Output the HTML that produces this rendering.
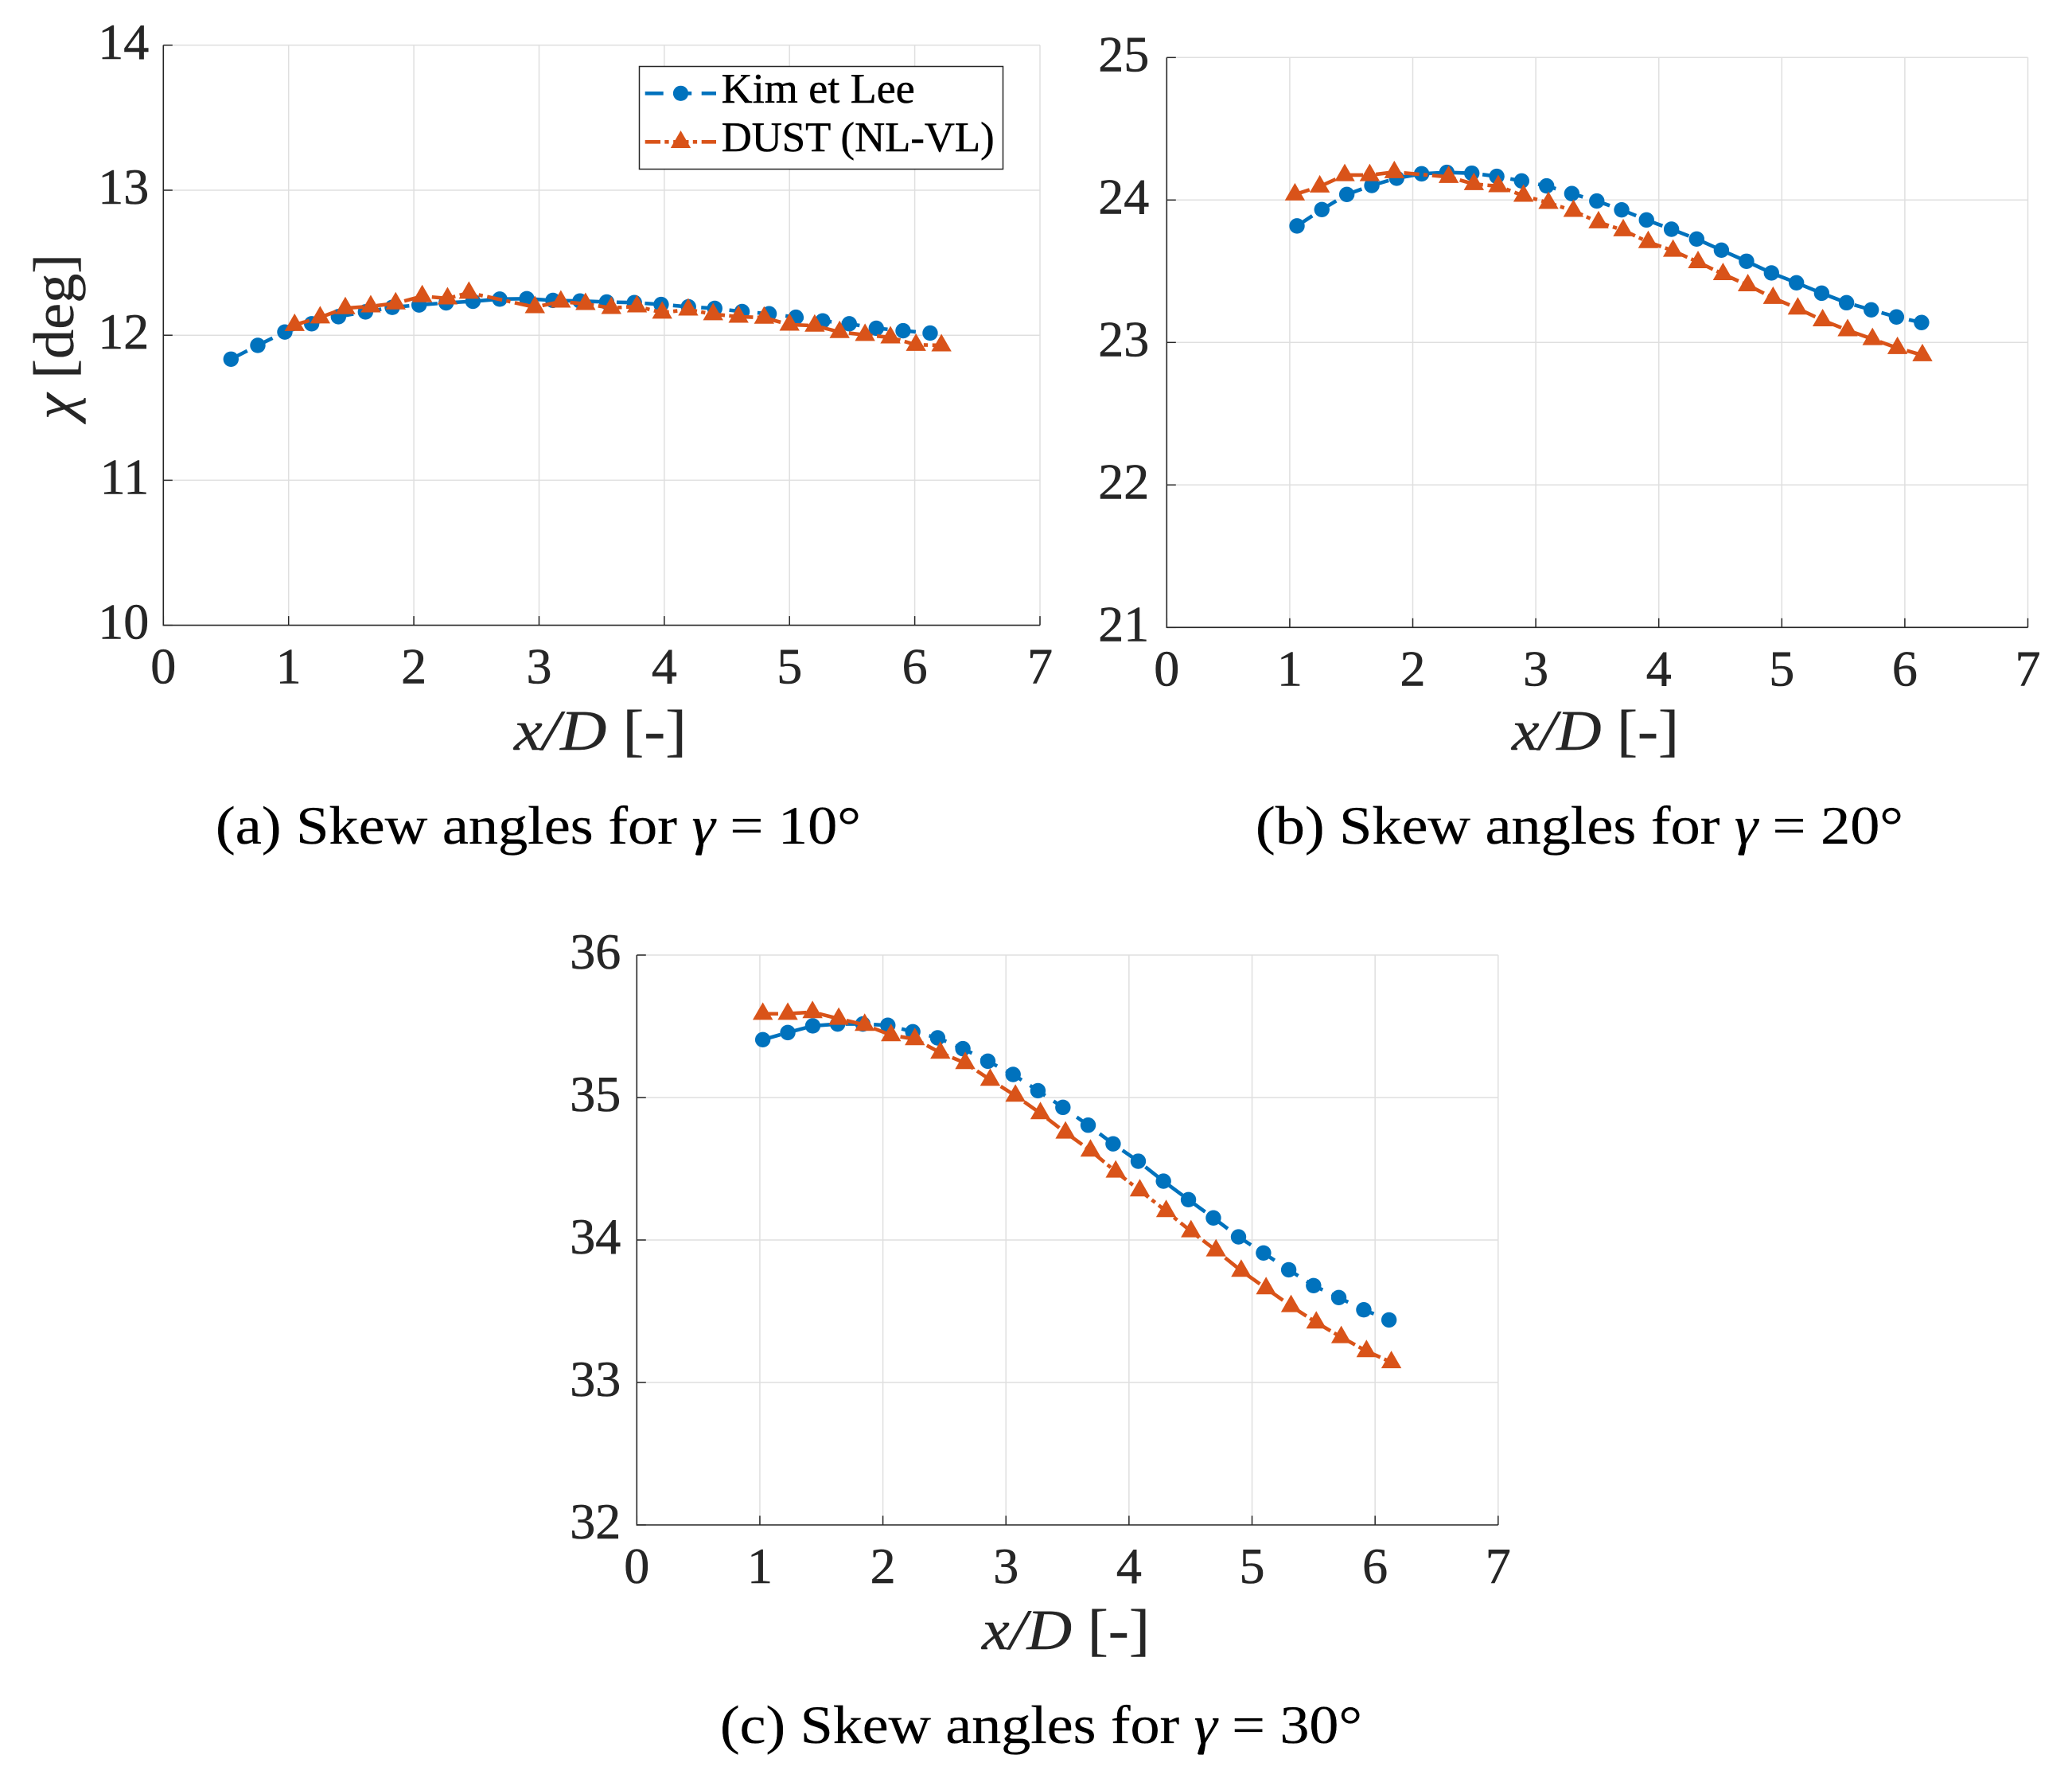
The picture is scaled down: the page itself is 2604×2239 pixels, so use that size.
<!DOCTYPE html>
<html lang="en">
<head>
<meta charset="utf-8">
<title>Skew angles for three yaw angles</title>
<style>
  html, body { margin: 0; padding: 0; background: #ffffff; }
  svg { display: block; font-family: "Liberation Serif", serif; }
  .tick { font-size: 64px; fill: #262626; stroke: #262626; stroke-width: 0.6px; }
  .axis-title { font-size: 72px; fill: #262626; stroke: #262626; stroke-width: 0.4px; }
  .caption { font-size: 68px; fill: #000000; stroke: #000000; stroke-width: 0.3px; }
  .legend-text { font-size: 53px; fill: #000000; stroke: #000000; stroke-width: 0.5px; }
</style>
</head>
<body>
<svg id="figure" xmlns="http://www.w3.org/2000/svg" width="2604" height="2239" viewBox="0 0 2604 2239">
  <rect x="0" y="0" width="2604" height="2239" fill="#ffffff"/>
  <g id="panel-a"></g>
  <g id="panel-b"></g>
  <g id="panel-c"></g>

  <text class="axis-title" transform="translate(92 527) rotate(-90)" textLength="208" lengthAdjust="spacingAndGlyphs"><tspan font-style="italic">χ</tspan> [deg]</text>
  <text class="axis-title" x="646" y="942" textLength="217" lengthAdjust="spacingAndGlyphs"><tspan font-style="italic">x/D</tspan> [-]</text>
  <text class="axis-title" x="1900" y="942" textLength="210" lengthAdjust="spacingAndGlyphs"><tspan font-style="italic">x/D</tspan> [-]</text>
  <text class="axis-title" x="1234" y="2072" textLength="211" lengthAdjust="spacingAndGlyphs"><tspan font-style="italic">x/D</tspan> [-]</text>

  <text class="caption" x="271" y="1060" textLength="811" lengthAdjust="spacingAndGlyphs">(a)  Skew angles for <tspan font-style="italic">γ</tspan> = 10°</text>
  <text class="caption" x="1578" y="1060" textLength="814" lengthAdjust="spacingAndGlyphs">(b)  Skew angles for <tspan font-style="italic">γ</tspan> = 20°</text>
  <text class="caption" x="905" y="2190" textLength="807" lengthAdjust="spacingAndGlyphs">(c)  Skew angles for <tspan font-style="italic">γ</tspan> = 30°</text>

  <g>
    <rect x="803.5" y="83.5" width="457" height="129" fill="#ffffff" stroke="#262626" stroke-width="1.5"/>
    <line x1="810.7" y1="117.3" x2="900" y2="117.3" stroke="#0072BD" stroke-width="4.6" stroke-dasharray="23 12.5"/>
    <circle cx="855.5" cy="117.3" r="9.6" fill="#0072BD"/>
    <text class="legend-text" x="906.7" y="129" textLength="243" lengthAdjust="spacingAndGlyphs">Kim et Lee</text>
    <line x1="810.7" y1="178.3" x2="900" y2="178.3" stroke="#D95319" stroke-width="4.6" stroke-dasharray="19.3 5.3 5.3 5.6"/>
    <path d="M855.5 164 L868.2 186 L842.8 186 Z" fill="#D95319"/>
    <text class="legend-text" x="906.7" y="190" textLength="343" lengthAdjust="spacingAndGlyphs">DUST (NL-VL)</text>
  </g>
</svg>

<script>
const xTickLabels = ['0', '1', '2', '3', '4', '5', '6', '7'];

const panelAYTicks = ['10', '11', '12', '13', '14'];
const panelAKimX = [0.54, 0.754, 0.97, 1.184, 1.398, 1.614, 1.828, 2.042, 2.258, 2.472, 2.686, 2.902, 3.111, 3.327, 3.54, 3.761, 3.975, 4.193, 4.403, 4.621, 4.837, 5.051, 5.265, 5.477, 5.693, 5.907, 6.123];
const panelAKimChi = [11.835, 11.93, 12.022, 12.079, 12.128, 12.161, 12.192, 12.209, 12.223, 12.234, 12.249, 12.252, 12.24, 12.236, 12.229, 12.225, 12.212, 12.196, 12.185, 12.163, 12.148, 12.124, 12.099, 12.079, 12.048, 12.031, 12.015];
const panelADustX = [1.048, 1.252, 1.453, 1.656, 1.855, 2.067, 2.269, 2.44, 2.967, 3.174, 3.371, 3.577, 3.782, 3.983, 4.191, 4.39, 4.593, 4.797, 5.0, 5.201, 5.4, 5.603, 5.806, 6.01, 6.213];
const panelADustChi = [12.071, 12.123, 12.187, 12.199, 12.22, 12.269, 12.254, 12.293, 12.194, 12.232, 12.216, 12.188, 12.199, 12.156, 12.177, 12.145, 12.128, 12.121, 12.073, 12.066, 12.022, 12.002, 11.985, 11.934, 11.93];

const panelBYTicks = ['21', '22', '23', '24', '25'];
const panelBKimX = [1.059, 1.261, 1.464, 1.667, 1.869, 2.072, 2.277, 2.48, 2.683, 2.885, 3.088, 3.293, 3.496, 3.698, 3.9, 4.103, 4.308, 4.509, 4.713, 4.916, 5.119, 5.324, 5.526, 5.727, 5.932, 6.136];
const panelBKimChi = [23.818, 23.933, 24.039, 24.102, 24.153, 24.184, 24.194, 24.188, 24.166, 24.134, 24.099, 24.045, 23.993, 23.931, 23.86, 23.795, 23.726, 23.648, 23.57, 23.488, 23.419, 23.346, 23.279, 23.229, 23.179, 23.14];
const panelBDustX = [1.042, 1.244, 1.447, 1.65, 1.85, 2.292, 2.497, 2.695, 2.9, 3.103, 3.306, 3.51, 3.711, 3.914, 4.116, 4.319, 4.522, 4.724, 4.929, 5.13, 5.332, 5.535, 5.737, 5.94, 6.143];
const panelBDustChi = [24.039, 24.095, 24.175, 24.175, 24.196, 24.162, 24.112, 24.097, 24.03, 23.98, 23.924, 23.844, 23.788, 23.705, 23.644, 23.564, 23.48, 23.402, 23.313, 23.238, 23.156, 23.086, 23.024, 22.961, 22.911];

const panelCYTicks = ['32', '33', '34', '35', '36'];
const panelCKimX = [1.024, 1.227, 1.43, 1.632, 1.837, 2.04, 2.243, 2.445, 2.65, 2.853, 3.058, 3.26, 3.463, 3.668, 3.871, 4.075, 4.28, 4.483, 4.686, 4.89, 5.093, 5.298, 5.5, 5.705, 5.908, 6.113];
const panelCKimChi = [35.406, 35.456, 35.503, 35.516, 35.516, 35.507, 35.462, 35.419, 35.343, 35.255, 35.162, 35.048, 34.931, 34.806, 34.675, 34.553, 34.413, 34.283, 34.155, 34.022, 33.909, 33.791, 33.68, 33.596, 33.51, 33.439];
const panelCDustX = [1.024, 1.227, 1.428, 1.641, 1.852, 2.066, 2.26, 2.467, 2.669, 2.872, 3.077, 3.28, 3.484, 3.687, 3.892, 4.088, 4.302, 4.504, 4.707, 4.912, 5.114, 5.317, 5.522, 5.725, 5.93, 6.132];
const panelCDustChi = [35.588, 35.588, 35.6, 35.553, 35.51, 35.438, 35.41, 35.315, 35.242, 35.125, 35.013, 34.89, 34.754, 34.628, 34.48, 34.348, 34.203, 34.061, 33.927, 33.784, 33.661, 33.536, 33.421, 33.318, 33.22, 33.142];

const BLUE = '#0072BD';
const ORANGE = '#D95319';
const GRID = '#dfdfdf';
const AXIS = '#262626';
const SVG_NS = 'http://www.w3.org/2000/svg';

function make(parent, tag, attrs) {
  const el = document.createElementNS(SVG_NS, tag);
  for (const key in attrs) {
    el.setAttribute(key, attrs[key]);
  }
  parent.appendChild(el);
  return el;
}

function drawPanel(groupId, box, yTicks, kimX, kimChi, dustX, dustChi) {
  const root = document.getElementById(groupId);
  const xMin = Number(xTickLabels[0]);
  const xMax = Number(xTickLabels[xTickLabels.length - 1]);
  const yMin = Number(yTicks[0]);
  const yMax = Number(yTicks[yTicks.length - 1]);
  const sx = function (v) { return box.left + (v - xMin) / (xMax - xMin) * (box.right - box.left); };
  const sy = function (v) { return box.bottom - (v - yMin) / (yMax - yMin) * (box.bottom - box.top); };

  xTickLabels.forEach(function (label) {
    const v = Number(label);
    if (v > xMin) {
      const grid = make(root, 'line', { x1: sx(v), x2: sx(v), y1: box.top, y2: box.bottom, stroke: GRID, 'stroke-width': 1.5 });
      
      
    }
  });
  yTicks.forEach(function (label) {
    const v = Number(label);
    if (v > yMin) {
      const grid = make(root, 'line', { x1: box.left, x2: box.right, y1: sy(v), y2: sy(v), stroke: GRID, 'stroke-width': 1.5 });
      
      
    }
  });

  const yAxis = make(root, 'line', { x1: box.left, x2: box.left, y1: box.top, y2: box.bottom + 0.75, stroke: AXIS, 'stroke-width': 1.6 });
  
  
  const xAxis = make(root, 'line', { x1: box.left, x2: box.right, y1: box.bottom, y2: box.bottom, stroke: AXIS, 'stroke-width': 1.6 });
  
  

  xTickLabels.forEach(function (label) {
    const v = Number(label);
    const tick = make(root, 'line', { x1: sx(v), x2: sx(v), y1: box.bottom, y2: box.bottom - 11.5, stroke: AXIS, 'stroke-width': 1.5 });
    
    
    const text = make(root, 'text', { x: sx(v), y: box.bottom + 73, 'text-anchor': 'middle', class: 'tick' });
    
    
    text.textContent = label;
  });
  yTicks.forEach(function (label) {
    const v = Number(label);
    const tick = make(root, 'line', { x1: box.left, x2: box.left + 11.5, y1: sy(v), y2: sy(v), stroke: AXIS, 'stroke-width': 1.5 });
    
    
    const text = make(root, 'text', { x: box.left - box.labelGap, y: sy(v) + 17, 'text-anchor': 'end', class: 'tick' });
    
    
    text.textContent = label;
  });

  const kimPoints = kimX.map(function (x, i) { return sx(x) + ',' + sy(kimChi[i]); }).join(' ');
  const kimLine = make(root, 'polyline', { points: kimPoints, fill: 'none', stroke: BLUE, 'stroke-width': 4.6, 'stroke-dasharray': '23 12.5' });
  
  
  kimX.forEach(function (x, i) {
    const dot = make(root, 'circle', { cx: sx(x), cy: sy(kimChi[i]), r: 9.7, fill: BLUE });
    
    
  });

  const dustPoints = dustX.map(function (x, i) { return sx(x) + ',' + sy(dustChi[i]); }).join(' ');
  const dustLine = make(root, 'polyline', { points: dustPoints, fill: 'none', stroke: ORANGE, 'stroke-width': 4.6, 'stroke-dasharray': '19.3 5.3 5.3 5.6' });
  
  
  dustX.forEach(function (x, i) {
    const cx = sx(x);
    const cy = sy(dustChi[i]);
    const d = 'M' + cx + ' ' + (cy - 14.4) + ' L' + (cx + 12.7) + ' ' + (cy + 7.6) + ' L' + (cx - 12.7) + ' ' + (cy + 7.6) + ' Z';
    const tri = make(root, 'path', { d: d, fill: ORANGE });
    
    
  });
}

drawPanel('panel-a', { left: 205.3, right: 1307, top: 56.8, bottom: 785.6, labelGap: 18 }, panelAYTicks, panelAKimX, panelAKimChi, panelADustX, panelADustChi);
drawPanel('panel-b', { left: 1466.3, right: 2548.5, top: 72.3, bottom: 788.3, labelGap: 22 }, panelBYTicks, panelBKimX, panelBKimChi, panelBDustX, panelBDustChi);
drawPanel('panel-c', { left: 800.3, right: 1882.8, top: 1200, bottom: 1916, labelGap: 20 }, panelCYTicks, panelCKimX, panelCKimChi, panelCDustX, panelCDustChi);
</script>
</body>
</html>
